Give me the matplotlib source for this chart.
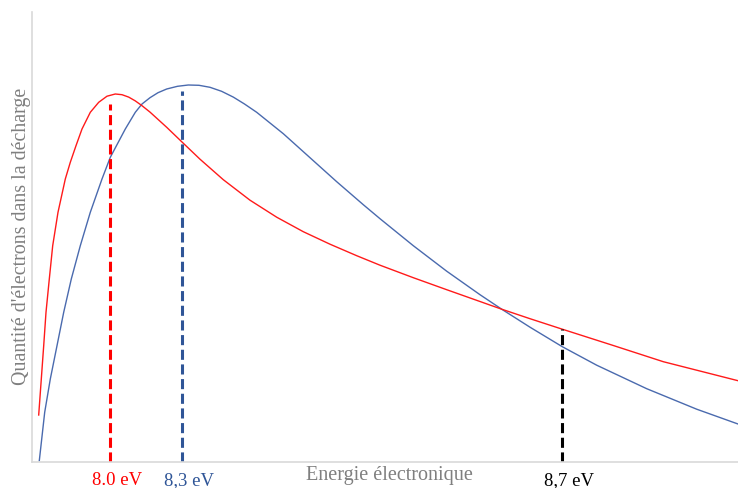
import matplotlib.pyplot as plt

# =====================================================
# DATA (arbitrary units)
# =====================================================

energy_red = [6.7, 9.3, 11.7, 14.0, 17.3, 20.7, 26.0, 33.3, 38.3, 44.0,
              50.0, 58.3, 66.7, 75.0, 83.3, 90.0, 96.7, 103.3, 110.0, 118.0,
              134.7, 150.3, 168.0, 191.3, 218.0, 244.7, 271.3, 298.0, 324.7,
              348.0, 381.3, 414.7, 469.7, 498.0, 530.3, 581.3, 631.3, 706.0]
count_red = [46.7, 82.7, 116.0, 149.4, 182.7, 216.0, 249.4, 282.7, 299.4,
             316.0, 332.7, 349.4, 359.4, 365.5, 367.7, 367.0, 364.6, 360.8,
             356.0, 349.6, 334.4, 319.4, 302.5, 282.0, 261.5, 244.5, 230.0,
             217.5, 206.0, 196.5, 184.0, 172.0, 152.5, 143.0, 132.5, 116.2,
             100.0, 81.0]

energy_blue = [7.3, 12.7, 18.3, 25.0, 31.7, 39.3, 48.3, 58.3, 70.0, 78.3,
               93.3, 103.3, 110.0, 118.0, 126.0, 134.7, 145.5, 156.3, 167.0,
               178.0, 189.6, 201.3, 212.5, 224.7, 251.3, 278.0, 304.7, 331.3,
               348.0, 381.3, 414.7, 448.0, 469.7, 498.0, 530.3, 564.7, 614.7,
               664.7, 706.0]
count_blue = [1.0, 49.4, 82.7, 116.0, 149.4, 182.7, 216.0, 249.4, 282.7,
              304.4, 332.7, 349.4, 357.7, 364.0, 369.0, 372.7, 375.4, 376.7,
              376.4, 374.4, 370.4, 364.6, 357.7, 349.4, 328.0, 304.0, 280.0,
              257.0, 243.0, 216.0, 190.5, 167.0, 152.5, 134.5, 115.0, 96.5,
              73.0, 52.5, 37.7]

marker_x = [78.3, 150.3, 530.3]
marker_top = [357.7, 371.0, 132.7]
marker_labels = ["8.0 eV", "8,3 eV", "8,7 eV"]
marker_colors = ["#FF0000", "#2F5597", "#000000"]

# =====================================================
# FIGURE
# =====================================================

plt.rcParams["font.family"] = ["Liberation Serif", "DejaVu Serif"]

fig = plt.figure(figsize=(7.38, 4.89), dpi=100)

ax = fig.add_axes([32 / 738, 26.3 / 489, 706 / 738, 449.7 / 489])

ax.plot(energy_blue, count_blue, color="#4A6AAE", lw=1.0)
ax.plot(energy_red, count_red, color="#FF1A1A", lw=1.0)

for x, top, lab, col in zip(marker_x, marker_top, marker_labels, marker_colors):

    ax.plot([x, x], [0, top], color=col, lw=2.2,
            dashes=(3.3, 1.5), solid_capstyle="butt")

    ax.annotate(lab, xy=(x, 0), xytext=(5, -13),
                textcoords="offset points", ha="center", va="center",
                color=col, fontsize=13.5, annotation_clip=False)

ax.set_xlim(0, 706)
ax.set_ylim(0, 449.7)

ax.set_xticks([])
ax.set_yticks([])

for side in ["top", "right"]:
    ax.spines[side].set_visible(False)

for side in ["left", "bottom"]:
    ax.spines[side].set_color("#D9D9D9")
    ax.spines[side].set_linewidth(1.2)

fig.text(389 / 738, 1 - 476 / 489, "Energie électronique",
         ha="center", va="center", color="#7F7F7F", fontsize=14.5)

fig.text(22 / 738, 1 - 236 / 489, "Quantité d'électrons dans la décharge",
         ha="center", va="center", rotation=90, color="#7F7F7F", fontsize=14.4)

plt.savefig("out.png", dpi=100)

plt.close()
